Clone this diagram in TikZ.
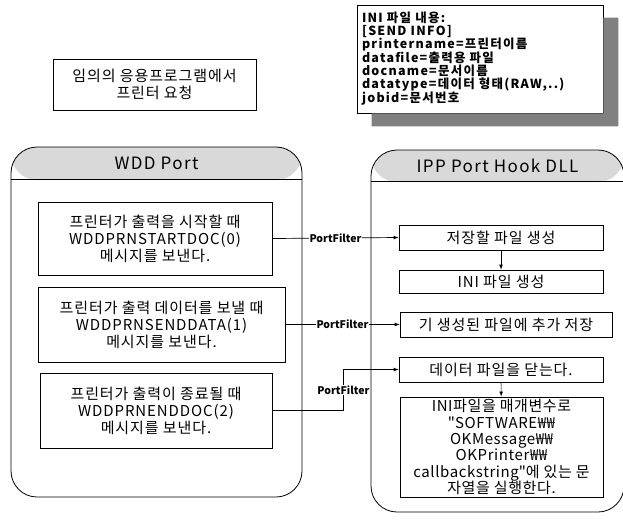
\documentclass[tikz,border=0pt]{standalone}
\usepackage{fontspec}
\setmainfont{Noto Sans CJK KR}
\usetikzlibrary{positioning,shapes,arrows}

\begin{document}
\begin{tikzpicture}[x=1pt,y=1pt,
  box/.style={draw,line width=0.8pt,align=center,inner sep=1pt,
    font=\fontsize{15}{17}\selectfont\addfontfeature{LetterSpace=6}},
  pf/.style={fill=white,inner sep=1pt,font=\fontsize{10.5}{12}\selectfont\bfseries},
  flow/.style={line width=0.7pt,-latex},
  frame/.style={draw,line width=0.8pt,rounded corners=26pt},
  title/.style={font=\fontsize{17}{19}\selectfont\addfontfeature{LetterSpace=8}}]
\useasboundingbox (0,0) rectangle (623,-520);

% request from the application
\node[box,minimum width=203,minimum height=51] (app) at (154.5,-84.5)
  {임의의 응용프로그램에서\\프린터 요청};

% contents of the INI file
\node[draw,fill=white,line width=0.8pt,text width=236,align=left,inner sep=5pt,
  minimum height=108,
  font=\fontsize{12.5}{12.9}\selectfont\bfseries\addfontfeature{LetterSpace=10}]
  (ini) at (480,-59)
  {INI 파일 내용:\\{[SEND INFO]}\\printername=프린터이름\\datafile=출력용 파일\\
   docname=문서이름\\datatype=데이터 형태(RAW,..)\\jobid=문서번호};
% its shadow, right and below
\fill[black!50]
  ([xshift=15pt]ini.south west) rectangle ([shift={(15pt,-13pt)}]ini.south east)
  ([yshift=-13pt]ini.north east) rectangle ([xshift=15pt]ini.south east);

% WDD Port (left)
\node[frame,minimum width=291,minimum height=350,
  path picture={\fill[gray!30] (path picture bounding box.north west)
    rectangle ([yshift=-33pt]path picture bounding box.north east);}]
  (wdd) at (156.5,-322) {};
\draw[line width=0.8pt] ([yshift=-33pt]wdd.north west) -- ([yshift=-33pt]wdd.north east);
\node[title] (wddtitle) at ([yshift=-16.5pt]wdd.north) {WDD Port};

\node[box,minimum width=234,minimum height=73] (start) at (155,-238.5)
  {프린터가 출력을 시작할 때\\WDDPRNSTARTDOC(0)\\메시지를 보낸다.};
\node[box,minimum width=247,minimum height=75] (send) at (161.5,-324.5)
  {프린터가 출력 데이터를 보낼 때\\WDDPRNSENDDATA(1)\\메시지를 보낸다.};
\node[box,minimum width=232,minimum height=75] (end) at (156,-410.5)
  {프린터가 출력이 종료될 때\\WDDPRNENDDOC(2)\\메시지를 보낸다.};

% IPP Port Hook DLL (right)
\node[frame,minimum width=253,minimum height=362,
  path picture={\fill[gray!30] (path picture bounding box.north west)
    rectangle ([yshift=-32pt]path picture bounding box.north east);}]
  (ipp) at (497.5,-331) {};
\draw[line width=0.8pt] ([yshift=-32pt]ipp.north west) -- ([yshift=-32pt]ipp.north east);
\node[title] (ipptitle) at ([yshift=-16pt]ipp.north) {IPP Port Hook DLL};

\node[box,minimum width=204,minimum height=25] (mkfile) at (501,-237.5) {저장할 파일 생성};
\node[box,minimum width=204,minimum height=23] (mkini) at (501,-281.5) {INI 파일 생성};
\node[box,minimum width=212,minimum height=25] (append) at (506,-324.5) {기 생성된 파일에 추가 저장};
\node[box,minimum width=204,minimum height=25] (close) at (501,-369.5) {데이터 파일을 닫는다.};
\node[box,minimum width=203,minimum height=100,inner sep=0pt,
  font=\fontsize{15}{16.3}\selectfont\addfontfeature{LetterSpace=4}] (run) at (501.5,-447)
  {INI파일을 매개변수로\\\textquotedbl SOFTWARE₩₩\\OKMessage₩₩\\OKPrinter₩₩\\
   callbackstring\textquotedbl 에 있는 문\\자열을 실행한다.};

% PortFilter calls
\draw[flow] (start.east) -- node[pf] {PortFilter} (mkfile.west);
\draw[flow] (send.east) -- node[pf] {PortFilter} (append.west);
\draw[flow] (end.east) -- ++(71,0) |- node[pf,pos=0.25] {PortFilter} (close.west);

\draw[flow] (mkfile) -- (mkini);
\draw[flow] (close) -- (run);
\end{tikzpicture}
\end{document}
